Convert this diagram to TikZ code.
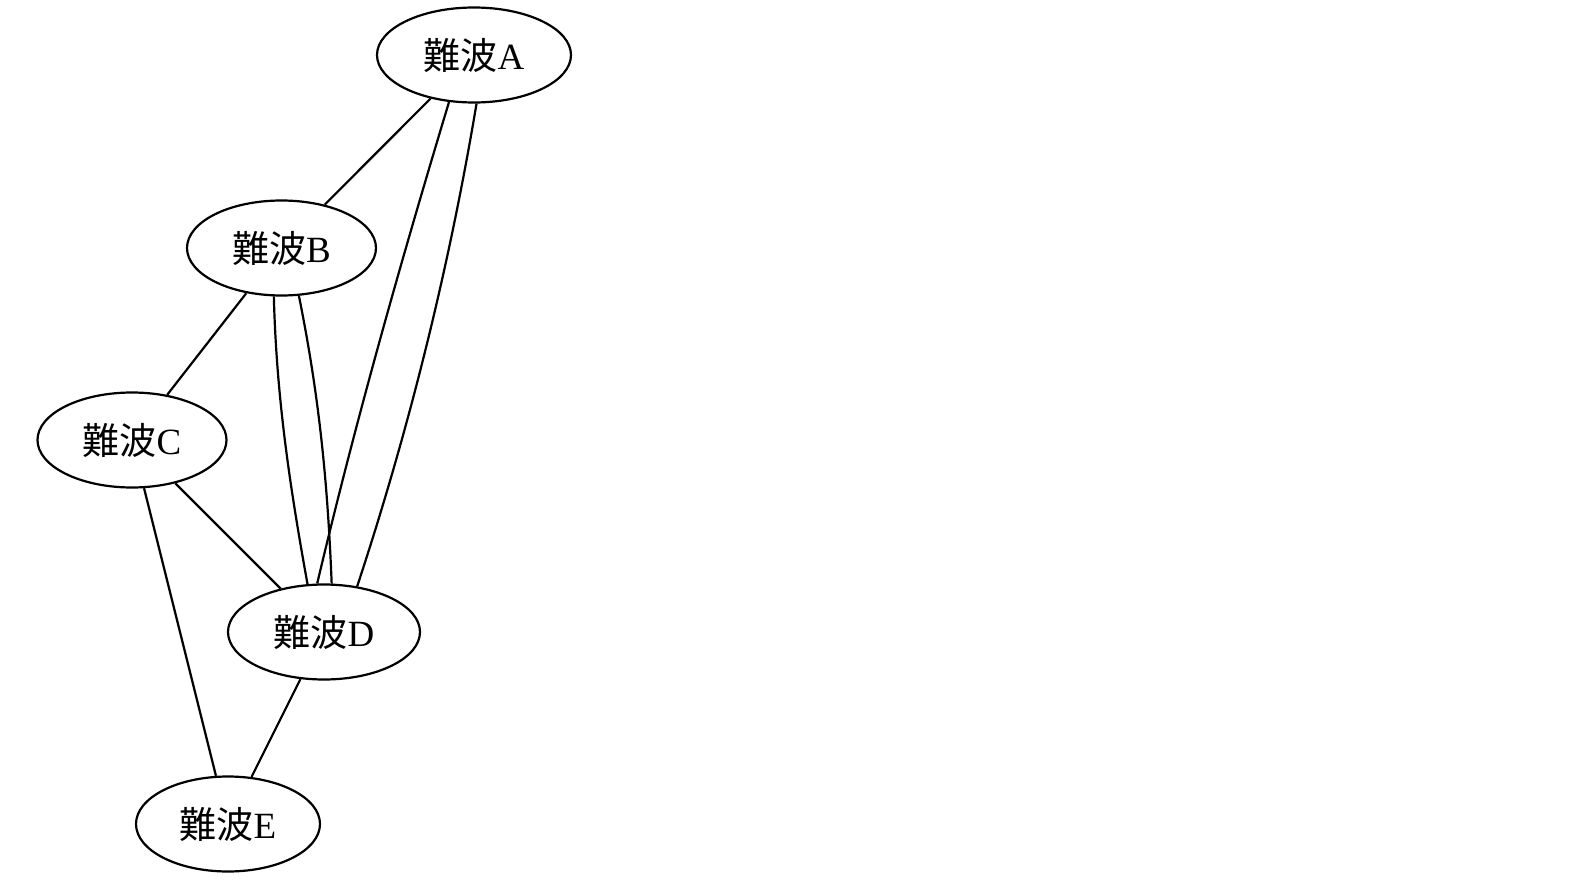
\documentclass[tikz,border=0pt]{standalone}
\usepackage{fontspec}
\setmainfont{Liberation Serif}
\newfontfamily\cjk{Noto Sans CJK JP}
\usetikzlibrary{shapes.geometric}
\begin{document}
\begin{tikzpicture}[x=1pt,y=-1pt,
  nd/.style={ellipse,draw,line width=2.2pt,inner sep=0pt,minimum height=95pt,font=\fontsize{37}{44}\selectfont},
  edge/.style={line width=2.2pt}]
\useasboundingbox (0,0) rectangle (1584,896);
\node[nd,minimum width=194pt] (A) at (474,55) {{\cjk 難波}A};
\node[nd,minimum width=189pt] (B) at (281.5,248) {{\cjk 難波}B};
\node[nd,minimum width=189pt] (C) at (132,440) {{\cjk 難波}C};
\node[nd,minimum width=192pt] (D) at (324,632) {{\cjk 難波}D};
\node[nd,minimum width=184pt] (E) at (228,824) {{\cjk 難波}E};
\draw[edge] (A) -- (B);
\draw[edge] (B) -- (C);
\draw[edge] (C) -- (D);
\draw[edge] (C) -- (E);
\draw[edge] (D) -- (E);
\draw[edge] (A.242) .. controls (400.3,263.3) and (355.1,423.3) .. (D.98.5);
\draw[edge] (A.273) .. controls (449.5,265) and (410.1,426) .. (D.54);
\draw[edge] (B.261) .. controls (276.5,396.7) and (289.3,483.3) .. (D.109);
\draw[edge] (B.290) .. controls (319.3,396.7) and (327.7,483.3) .. (D.81);
\end{tikzpicture}
\end{document}
